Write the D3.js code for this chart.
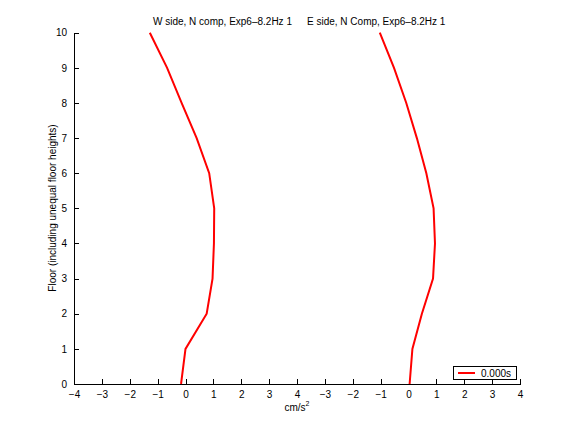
<!DOCTYPE html>
<html><head><meta charset="utf-8">
<script src="https://cdn.jsdelivr.net/npm/d3@7"></script>
<style>body{margin:0;background:#fff}text{font-family:"Liberation Sans",Arial,sans-serif}</style>
</head><body>
<script>
const floors = [0,1,2,3,4,5,6,7,8,9,10];
const westValues = [-0.16,0.0,0.76,0.97,1.02,1.03,0.85,0.40,-0.14,-0.66,-1.28];
const eastValues = [0.04,0.14,0.48,0.88,0.95,0.90,0.64,0.30,-0.08,-0.52,-1.03];
const eastOffset = 8;
const xTicks = [-4,-3,-2,-1,0,1,2,3,4,5,6,7,8,9,10,11,12];
const yTicks = [0,1,2,3,4,5,6,7,8,9,10];
const titles = ["W side, N comp, Exp6\u20138.2Hz 1","E side, N Comp, Exp6\u20138.2Hz 1"];
const legendLabel = "0.000s";

const W=576,H=432;
const svg=d3.select("body").append("svg").attr("width",W).attr("height",H);
const x=d3.scaleLinear().domain([-4,12]).range([74,520]);
const y=d3.scaleLinear().domain([0,10]).range([384,32.7]);
const fmt=v=>{const t=v<=4?v:v-eastOffset;return t<0?"\u2212"+(-t):""+t;};

const xa=svg.append("g").attr("transform","translate(0,384)")
 .call(d3.axisBottom(x).tickValues(xTicks).tickFormat(fmt).tickSizeInner(-5).tickSizeOuter(0).tickPadding(7));
const ya=svg.append("g").attr("transform","translate(74,0)")
 .call(d3.axisLeft(y).tickValues(yTicks).tickFormat(d3.format("d")).tickSizeInner(-5).tickSizeOuter(0).tickPadding(7));
[xa,ya].forEach(g=>{g.selectAll("path,line").attr("stroke","#000").attr("stroke-width",1).attr("shape-rendering","crispEdges");
 g.selectAll("text").attr("font-size",10).attr("fill","#000").style("font-family","'Liberation Sans',Arial,sans-serif");});

const line=d3.line().x(d=>x(d[0])).y(d=>y(d[1]));
svg.append("path").datum(floors.map((f,i)=>[westValues[i],f])).attr("d",line)
 .attr("fill","none").attr("stroke","#ff0000").attr("stroke-width",2);
svg.append("path").datum(floors.map((f,i)=>[eastValues[i]+eastOffset,f])).attr("d",line)
 .attr("fill","none").attr("stroke","#ff0000").attr("stroke-width",2);

svg.append("text").attr("x",153).attr("y",25).attr("font-size",10).text(titles[0]);
svg.append("text").attr("x",307).attr("y",25).attr("font-size",10).text(titles[1]);

const xl=svg.append("text").attr("x",297).attr("y",411).attr("text-anchor","middle").attr("font-size",10);
xl.append("tspan").text("cm/s");
xl.append("tspan").attr("dy",-5).attr("font-size",7).text("2");
svg.append("text").attr("transform","translate(56,208) rotate(-90)").attr("text-anchor","middle").attr("font-size",10)
 .text("Floor (including unequal floor heights)");

const lg=svg.append("g");
lg.append("rect").attr("x",453.5).attr("y",366.5).attr("width",63).attr("height",13).attr("fill","#fff").attr("stroke","#000").attr("stroke-width",1);
lg.append("line").attr("x1",458).attr("x2",475).attr("y1",373).attr("y2",373).attr("stroke","#ff0000").attr("stroke-width",2);
lg.append("text").attr("x",481).attr("y",377).attr("font-size",10).text(legendLabel);
</script>
</body></html>
